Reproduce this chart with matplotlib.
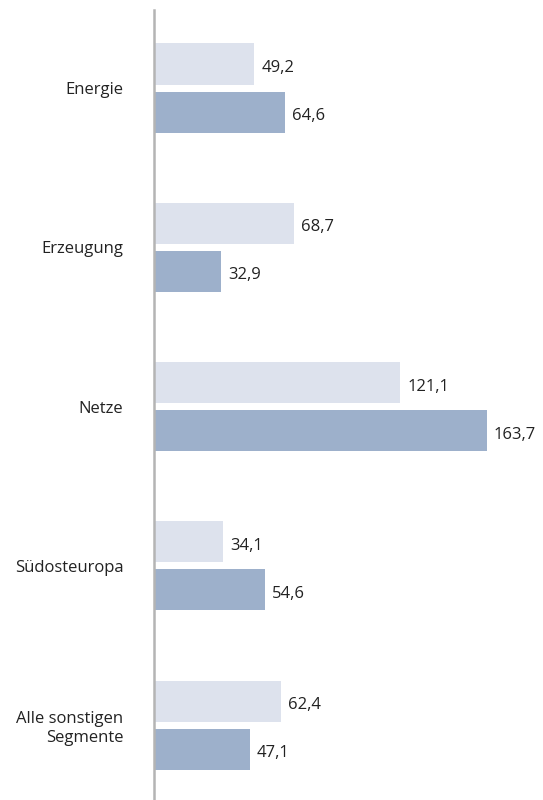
import matplotlib.pyplot as plt
import matplotlib.transforms as mtransforms
import numpy as np

plt.rcParams['font.family'] = ['Open Sans', 'DejaVu Sans']

categories = ['Energie', 'Erzeugung', 'Netze', 'Südosteuropa', 'Alle sonstigen\nSegmente']
prev_vals = [49.2, 68.7, 121.1, 34.1, 62.4]
curr_vals = [64.6, 32.9, 163.7, 54.6, 47.1]

fig = plt.figure(figsize=(5.43, 8), dpi=100)
ax = fig.add_axes([154 / 543, 0, 389 / 543, 790 / 800])

y = np.arange(len(categories))
h = 0.258
off = 0.151
ax.barh(y - off, prev_vals, height=h, color='#dde2ed')
ax.barh(y + off, curr_vals, height=h, color='#9db0cb')

shift = mtransforms.ScaledTranslation(0, -4 / 100, fig.dpi_scale_trans)

for yi, v in zip(y - off, prev_vals):
    ax.text(v + 3.5, yi, f'{v:.1f}'.replace('.', ','), va='center', ha='left',
            fontsize=12, color='#222222', transform=ax.transData + shift)
for yi, v in zip(y + off, curr_vals):
    ax.text(v + 3.5, yi, f'{v:.1f}'.replace('.', ','), va='center', ha='left',
            fontsize=12, color='#222222', transform=ax.transData + shift)

ax.set_xlim(0, 191.3)
ax.set_ylim(len(categories) - 0.53, -0.49)
ax.set_yticks(y)
ax.set_yticklabels(categories, fontsize=12, color='#222222', ha='right',
                   linespacing=1.25)
for lbl in ax.get_yticklabels():
    lbl.set_transform(lbl.get_transform() + shift)
ax.tick_params(axis='y', length=0, pad=22)
ax.set_xticks([])
for s in ['top', 'right', 'bottom']:
    ax.spines[s].set_visible(False)
ax.spines['left'].set_color('#b4b4b4')
ax.spines['left'].set_linewidth(1.8)

fig.savefig('out.png', dpi=100)
